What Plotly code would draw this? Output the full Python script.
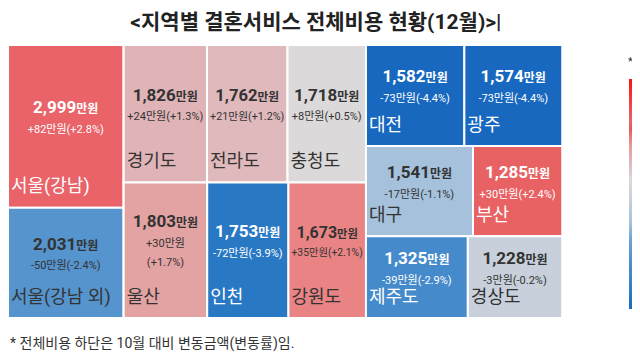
import plotly.graph_objects as go

# ---- data ----
regions = ["서울(강남)", "서울(강남 외)", "경기도", "전라도", "충청도", "울산", "인천", "강원도",
           "대전", "광주", "대구", "부산", "제주도", "경상도"]
cost = [2999, 2031, 1826, 1762, 1718, 1803, 1753, 1673, 1582, 1574, 1541, 1285, 1325, 1228]
change_amt = [82, -50, 24, 21, 8, 30, -72, 35, -73, -73, -17, 30, -39, -3]
change_pct = [2.8, -2.4, 1.3, 1.2, 0.5, 1.7, -3.9, 2.1, -4.4, -4.4, -1.1, 2.4, -2.9, -0.2]
group = ["L", "L", "M1", "M1", "M1", "M2", "M2", "M2", "R1", "R1", "R2", "R2", "R3", "R3"]

block_ids = ["L", "M", "R", "M1", "M2", "R1", "R2", "R3"]
block_parents = ["", "", "", "M", "M", "R", "R", "R"]

title_text = "<지역별 결혼서비스 전체비용 현황(12월)>|"
note_text = "* 전체비용 하단은 10월 대비 변동금액(변동률)임."

# ---- styles ----
FONT = "Roboto, 'Noto Sans CJK KR', sans-serif"
dark_text = {"서울(강남 외)", "경기도", "전라도", "충청도", "울산", "강원도", "대구", "경상도"}
wrap_change = {"울산"}
colorscale = [[0.0, "#1868c0"], [0.08, "#2e7ec6"], [0.2, "#4d8ecc"], [0.3, "#6fa3d4"],
              [0.38, "#a9c3dd"], [0.48, "#c9d1db"], [0.56, "#dcd9d9"], [0.65, "#e0b3b6"],
              [0.70, "#e5a0a0"], [0.74, "#ea8283"], [0.78, "#e85b5d"], [0.82, "#e9636a"],
              [1.0, "#ff1010"]]


def sgn(v):
    return "+" if v > 0 else "-" if v < 0 else ""


value_tpl, label_tpl, txt_colors = [], [], []
for r, c, a, p in zip(regions, cost, change_amt, change_pct):
    sep = "<br>" if r in wrap_change else ""
    chg = f"{sgn(a)}{abs(a)}만원{sep}({sgn(p)}{abs(p)}%)"
    value_tpl.append(f"<span style='font-size:17px'><b>{c:,}</b></span>"
                     f"<span style='font-size:12px'><b>만원</b></span><br>"
                     f"<span style='font-size:11px'>{chg}</span>"
                     f"<br><span style='font-size:11px'> </span>")
    label_tpl.append(f"<span style='font-size:18px'>{r}</span><br> ")
    txt_colors.append("#333333" if r in dark_text else "#ffffff")

ids = block_ids + regions
parents = block_parents + group
values = [0] * len(block_ids) + cost
nb = len(block_ids)

fig = go.Figure()
common = dict(
    ids=ids, labels=ids, parents=parents, values=values, branchvalues="remainder",
    tiling=dict(packing="slice-dice", pad=0),
    pathbar=dict(visible=False),
    domain=dict(x=[0.0, 0.866], y=[0, 1]),
    sort=False,
)
fig.add_trace(go.Treemap(
    **common,
    root=dict(color="white"),
    texttemplate=[""] * nb + value_tpl,
    textposition="middle center",
    textfont=dict(family=FONT, size=15, color=["#333"] * nb + txt_colors),
    marker=dict(colors=[0] * nb + change_pct, coloraxis="coloraxis",
                line=dict(color="white", width=2), pad=dict(t=0, l=0, r=0, b=0)),
    hoverinfo="skip",
))
fig.add_trace(go.Treemap(
    **common,
    root=dict(color="rgba(0,0,0,0)"),
    texttemplate=[""] * nb + label_tpl,
    textposition="bottom left",
    textfont=dict(family=FONT, size=8, color=["#333"] * nb + txt_colors),
    marker=dict(colors=["rgba(0,0,0,0)"] * len(ids), line=dict(width=0),
                pad=dict(t=0, l=0, r=0, b=0), depthfade=False),
    hoverinfo="skip",
))

fig.update_layout(
    width=640, height=360,
    margin=dict(l=0, r=0, t=37, b=50, autoexpand=False),
    paper_bgcolor="white",
    font=dict(family=FONT, color="#333"),
    coloraxis=dict(colorscale=colorscale, cmin=-4.4, cmax=4.4, showscale=True,
                   colorbar=dict(x=0.970, xanchor="left", xref="paper", y=0.033, yanchor="bottom",
                                 len=0.842, thickness=11, xpad=0, ypad=0, outlinewidth=0,
                                 showticklabels=False, ticks="")),
    title=dict(text=f"<b>{title_text}</b>", x=0.481, xanchor="center", y=0.961, yanchor="middle",
               font=dict(size=21, color="#222", family=FONT)),
    annotations=[
        dict(text=note_text, xref="paper", yref="paper", x=0.0, y=-0.092, xanchor="left",
             yanchor="middle", showarrow=False, font=dict(size=14, color="#333", family=FONT)),
        dict(text="*", xref="paper", yref="paper", x=0.973, y=0.941, xanchor="center",
             yanchor="middle", showarrow=False, font=dict(size=11, color="#333", family=FONT)),
    ],
)

fig.write_html("out.html")
